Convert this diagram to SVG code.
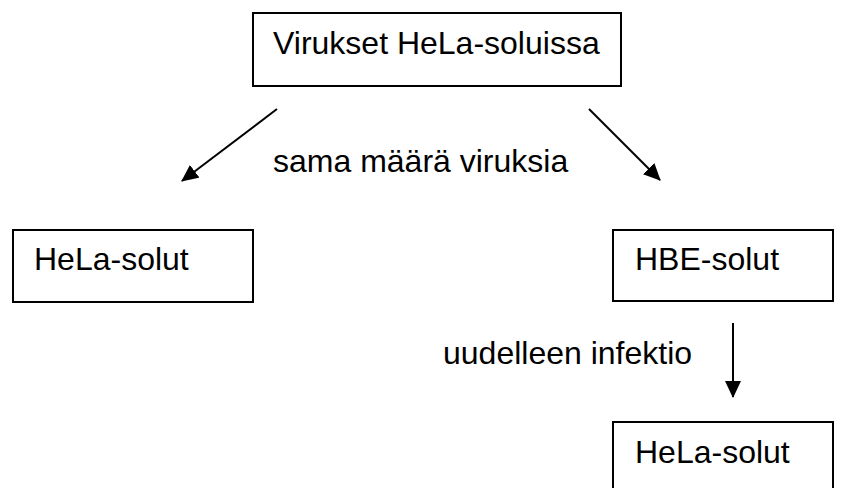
<svg xmlns="http://www.w3.org/2000/svg" width="843" height="488" viewBox="0 0 843 488">
<defs>
<style>
.box{fill:#fff;stroke:#000;stroke-width:2}
.lbl{font-family:"Liberation Sans",Arial,sans-serif;font-size:32px;fill:#000}
.con{stroke:#000;stroke-width:2;fill:none;marker-end:url(#ah)}
</style>
<marker id="ah" viewBox="0 0 17 16" refX="16" refY="8" markerWidth="17" markerHeight="16" markerUnits="userSpaceOnUse" orient="auto">
<path d="M0,0 L17,8 L0,16 z" fill="#000"/>
</marker>
</defs>
<rect width="843" height="488" fill="#fff"/>
<g id="top">
<rect class="box" x="253" y="13" width="368" height="73"/>
<text class="lbl" x="273" y="54">Virukset HeLa-soluissa</text>
</g>
<g id="hela1">
<rect class="box" x="13" y="230" width="240" height="72"/>
<text class="lbl" x="34" y="270">HeLa-solut</text>
</g>
<g id="hbe">
<rect class="box" x="613" y="230" width="220" height="71"/>
<text class="lbl" x="635" y="270">HBE-solut</text>
</g>
<g id="hela2">
<rect class="box" x="613" y="422" width="220" height="80"/>
<text class="lbl" x="635" y="463">HeLa-solut</text>
</g>
<g id="connectors">
<line class="con" x1="277" y1="109" x2="182" y2="181"/>
<line class="con" x1="589" y1="109" x2="660" y2="180"/>
<line class="con" x1="733" y1="323" x2="733" y2="397"/>
<text class="lbl" x="273" y="172">sama määrä viruksia</text>
<text class="lbl" x="443" y="364">uudelleen infektio</text>
</g>
</svg>
